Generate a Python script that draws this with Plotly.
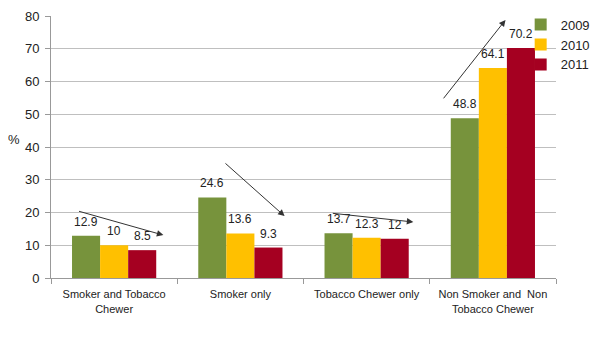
import plotly.graph_objects as go

categories = ["Smoker and Tobacco<br>Chewer", "Smoker only", "Tobacco Chewer only",
              "Non Smoker and  Non<br>Tobacco Chewer"]
years = ["2009", "2010", "2011"]
values = {
    "2009": [12.9, 24.6, 13.7, 48.8],
    "2010": [10, 13.6, 12.3, 64.1],
    "2011": [8.5, 9.3, 12, 70.2],
}
colors = {"2009": "#77933C", "2010": "#FFC000", "2011": "#A50021"}
y_ticks = [0, 10, 20, 30, 40, 50, 60, 70, 80]

# trend arrows (start x, start y, end x, end y) in category-index / value units
arrows = [
    (-0.29, 20.5, 0.39, 13.1),
    (0.87, 35.4, 1.35, 18.9),
    (1.72, 19.8, 2.37, 17.1),
    (2.60, 54.4, 3.10, 78.8),
]

BARGAP = 0.333
bar_w = (1 - BARGAP) / len(years)

fig = go.Figure()
for yr in years:
    fig.add_trace(go.Bar(
        x=categories, y=values[yr], name=yr,
        marker=dict(color=colors[yr], line=dict(width=0)),
    ))

# invisible numeric overlay axis for arrow / label placement
fig.add_trace(go.Scatter(x=[-0.5, 3.5], y=[0, 0], xaxis="x2", mode="markers",
                         marker=dict(opacity=0), showlegend=False, hoverinfo="skip"))

# value labels above bars
for k, yr in enumerate(years):
    for i, v in enumerate(values[yr]):
        fig.add_annotation(x=i + (k - (len(years) - 1) / 2) * bar_w, y=v,
                           xref="x2", yref="y", text=f"{v:g}", showarrow=False,
                           yanchor="bottom", xanchor="center", yshift=5,
                           font=dict(size=12, color="#222222"))

for x0, y0, x1, y1 in arrows:
    fig.add_annotation(x=x1, y=y1, ax=x0, ay=y0, xref="x2", yref="y",
                       axref="x2", ayref="y", showarrow=True, arrowhead=2,
                       arrowsize=1.3, arrowwidth=1, arrowcolor="#333333", text="")

fig.add_annotation(text="%", x=-0.073, y=0.527, xref="paper", yref="paper",
                   xanchor="center", yanchor="middle",
                   showarrow=False, font=dict(size=13, color="#222222"))

fig.update_layout(
    width=592, height=331,
    margin=dict(l=43, r=44, t=8, b=61, autoexpand=False),
    paper_bgcolor="white", plot_bgcolor="white",
    barmode="group", bargap=BARGAP, bargroupgap=0,
    font=dict(family="Liberation Sans, Arial, sans-serif", size=11, color="#222222"),
    showlegend=True,
    legend=dict(xref="container", yref="container", x=0.866, y=0.995,
                xanchor="left", yanchor="top",
                font=dict(size=13), bgcolor="rgba(0,0,0,0)",
                itemwidth=30, tracegroupgap=0),
    xaxis=dict(type="category", range=[-0.5, 3.5], tickson="boundaries",
               ticks="outside", ticklen=5, ticklabelstandoff=6,
               tickcolor="#999999", showline=True, linecolor="#999999",
               showgrid=False, tickfont=dict(size=11)),
    xaxis2=dict(overlaying="x", range=[-0.5, 3.5], visible=False),
    yaxis=dict(range=[0, 80], tickvals=y_ticks, ticks="outside", ticklen=5,
               ticklabelstandoff=3,
               tickcolor="#999999", showline=True, linecolor="#999999",
               gridcolor="#BFBFBF", gridwidth=1, zeroline=False,
               tickfont=dict(size=13)),
)

fig.write_html("out.html")
